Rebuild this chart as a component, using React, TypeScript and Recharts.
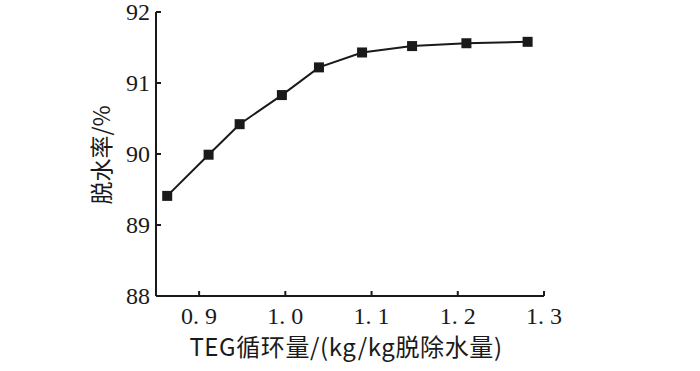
import { LineChart, Line, XAxis, YAxis, Label } from "recharts";

const circulation = [0.863, 0.911, 0.947, 0.996, 1.039, 1.089, 1.147, 1.21, 1.281];
const dehydration = [89.41, 89.99, 90.42, 90.83, 91.22, 91.43, 91.52, 91.56, 91.58];
const xTicks = [0.9, 1.0, 1.1, 1.2, 1.3];
const yTicks = [88, 89, 90, 91, 92];
const xTitle = "TEG循环量/(kg/kg脱除水量)";
const yTitle = "脱水率/%";

const data = circulation.map((x, i) => ({ x, y: dehydration[i] }));

const INK = "#1a1a1a";
const NUM_FONT = "'Liberation Serif', serif";
const CJK_FONT = "'Noto Sans CJK SC', sans-serif";

function XTick({ x, y, payload }: any) {
  const label = Number(payload.value).toFixed(1).replace(".", ". ");
  return (
    <g>
      <line x1={x} x2={x} y1={y} y2={y - 5} stroke={INK} strokeWidth={2} />
      <text x={x} y={y + 28} textAnchor="middle" fontFamily={NUM_FONT} fontSize={24} fill={INK}>
        {label}
      </text>
    </g>
  );
}

function YTick({ x, y, payload }: any) {
  return (
    <g>
      <line x1={x} x2={x + 5} y1={y} y2={y} stroke={INK} strokeWidth={2} />
      <text x={x - 6} y={y + 8} textAnchor="end" fontFamily={NUM_FONT} fontSize={24} fill={INK}>
        {payload.value}
      </text>
    </g>
  );
}

function SquareDot({ cx, cy }: any) {
  return <rect x={cx - 5} y={cy - 5} width={10} height={10} fill={INK} />;
}

export default function App() {
  return (
    <div style={{ position: "absolute", left: 0, top: 0, background: "#fff" }}>
      <LineChart width={700} height={371} data={data} margin={{ top: 12, right: 156, bottom: 0, left: 96 }}>
        <XAxis
          dataKey="x"
          type="number"
          domain={[0.85, 1.3]}
          ticks={xTicks}
          height={75}
          tickSize={0}
          tickMargin={0}
          tickLine={false}
          axisLine={{ stroke: INK, strokeWidth: 2 }}
          tick={<XTick />}
          interval={0}
          allowDataOverflow
        >
          <Label
            content={() => (
              <text x={346} y={356} textAnchor="middle" fontFamily={CJK_FONT} fontSize={24} letterSpacing={0.6} fill={INK}>
                {xTitle}
              </text>
            )}
          />
        </XAxis>
        <YAxis
          type="number"
          domain={[88, 92]}
          ticks={yTicks}
          width={60}
          tickSize={0}
          tickMargin={0}
          tickLine={false}
          axisLine={{ stroke: INK, strokeWidth: 2 }}
          tick={<YTick />}
          interval={0}
        >
          <Label
            content={() => (
              <text
                x={100}
                y={155}
                transform="rotate(-90, 100, 155)"
                textAnchor="middle"
                dominantBaseline="central"
                fontFamily={CJK_FONT}
                fontSize={23}
                fill={INK}
              >
                {yTitle}
              </text>
            )}
          />
        </YAxis>
        <Line
          dataKey="y"
          stroke={INK}
          strokeWidth={2}
          dot={<SquareDot />}
          activeDot={false}
          isAnimationActive={false}
        />
      </LineChart>
    </div>
  );
}
